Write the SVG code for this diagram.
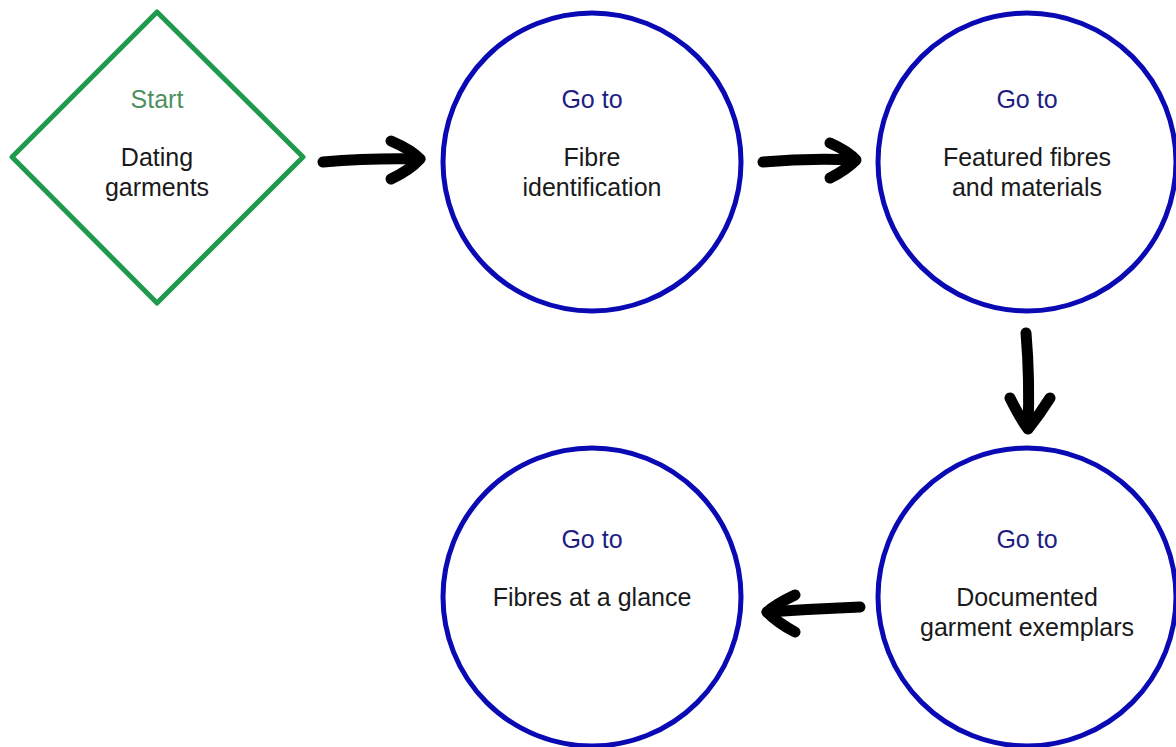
<svg xmlns="http://www.w3.org/2000/svg" width="1176" height="747" viewBox="0 0 1176 747">
  <style>
    .node-circle { fill: #ffffff; stroke: #0a0ab4; stroke-width: 5; }
    .node-diamond { fill: #ffffff; stroke: #1f9a4c; stroke-width: 5; stroke-linejoin: round; }
    text { font-family: "Liberation Sans", Arial, sans-serif; font-size: 25px; text-anchor: middle; }
    .goto { fill: #1e1e82; }
    .start { fill: #4f9060; }
    .label { fill: #1a1a1a; }
    .arrow { fill: none; stroke: #000000; stroke-width: 11; stroke-linecap: round; stroke-linejoin: round; }
  </style>
  <rect x="0" y="0" width="1176" height="747" fill="#ffffff"/>

  <g id="connectors">
    <g id="arrow-start-fibre">
      <path class="arrow" d="M323 162 Q370 158 419 159"/>
      <path class="arrow" d="M391 141 Q412 150 420 159 Q410 170 391 179"/>
    </g>
    <g id="arrow-fibre-featured">
      <path class="arrow" d="M763 162 Q808 158 855 160"/>
      <path class="arrow" d="M830 143 Q848 151 856 160 Q846 170 830 178"/>
    </g>
    <g id="arrow-featured-documented">
      <path class="arrow" d="M1026 333 Q1030 380 1028 428"/>
      <path class="arrow" d="M1010 398 Q1020 418 1028 429 Q1040 414 1050 398"/>
    </g>
    <g id="arrow-documented-glance">
      <path class="arrow" d="M860 607 Q812 609 767 612"/>
      <path class="arrow" d="M795 595 Q776 604 767 612 Q778 623 795 632"/>
    </g>
  </g>

  <g id="node-start">
    <path class="node-diamond" d="M157 12 L303 157 L157 303 L12 157 Z"/>
    <text class="start" x="157" y="108">Start</text>
    <text class="label" x="157" y="166">Dating</text>
    <text class="label" x="157" y="196">garments</text>
  </g>

  <g id="node-fibre-identification">
    <circle class="node-circle" cx="592" cy="162" r="149"/>
    <text class="goto" x="592" y="108">Go to</text>
    <text class="label" x="592" y="166">Fibre</text>
    <text class="label" x="592" y="196">identification</text>
  </g>

  <g id="node-featured-fibres">
    <circle class="node-circle" cx="1027" cy="162" r="149"/>
    <text class="goto" x="1027" y="108">Go to</text>
    <text class="label" x="1027" y="166">Featured fibres</text>
    <text class="label" x="1027" y="196">and materials</text>
  </g>

  <g id="node-documented">
    <circle class="node-circle" cx="1027" cy="597" r="149"/>
    <text class="goto" x="1027" y="548">Go to</text>
    <text class="label" x="1027" y="606">Documented</text>
    <text class="label" x="1027" y="636">garment exemplars</text>
  </g>

  <g id="node-glance">
    <circle class="node-circle" cx="592" cy="597" r="149"/>
    <text class="goto" x="592" y="548">Go to</text>
    <text class="label" x="592" y="606">Fibres at a glance</text>
  </g>
</svg>
